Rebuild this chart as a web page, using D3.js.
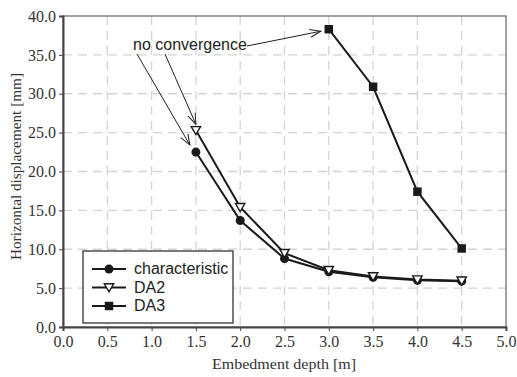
<!DOCTYPE html>
<html>
<head>
<meta charset="utf-8">
<script src="https://cdn.jsdelivr.net/npm/d3@7"></script>
<style>
  body { margin: 0; background: #fff; }
</style>
</head>
<body>
<div id="chart"></div>
<script>
// data
const depths = [1.5, 2.0, 2.5, 3.0, 3.5, 4.0, 4.5];
const characteristic = [22.5, 13.7, 8.8, 7.1, 6.4, 6.0, 5.9];
const da2 = [25.3, 15.4, 9.5, 7.3, 6.5, 6.1, 5.95];
const da3Depths = [3.0, 3.5, 4.0, 4.5];
const da3 = [38.3, 30.9, 17.4, 10.1];
const xTicks = [0, 0.5, 1, 1.5, 2, 2.5, 3, 3.5, 4, 4.5, 5];
const yTicks = [0, 5, 10, 15, 20, 25, 30, 35, 40];

const margin = {top: 16, right: 11, bottom: 50, left: 63},
      width = 517 - margin.left - margin.right,
      height = 377 - margin.top - margin.bottom;

const svgRoot = d3.select("#chart")
    .append("svg")
    .attr("width", 517)
    .attr("height", 377);

svgRoot.append("defs").append("marker")
    .attr("id", "arrow")
    .attr("viewBox", "0 0 12 10")
    .attr("refX", 11).attr("refY", 5)
    .attr("markerWidth", 12).attr("markerHeight", 10)
    .attr("markerUnits", "userSpaceOnUse")
    .attr("orient", "auto")
    .append("path")
    .attr("d", "M0,1 L11,5 L0,9")
    .attr("fill", "none")
    .attr("stroke", "#222")
    .attr("stroke-width", 1);

const svg = svgRoot.append("g")
    .attr("transform", `translate(${margin.left}, ${margin.top})`);

const x = d3.scaleLinear().domain([0, 5]).range([0, width]);
const y = d3.scaleLinear().domain([0, 40]).range([height, 0]);

// grid
svg.append("g").selectAll("line")
    .data(xTicks.slice(1, -1))
    .join("line")
    .attr("x1", d => x(d)).attr("x2", d => x(d))
    .attr("y1", 0).attr("y2", height)
    .attr("stroke", "#d4d4d4").attr("stroke-width", 1.3)
    .attr("stroke-dasharray", "9,6");
svg.append("g").selectAll("line")
    .data(yTicks.slice(1, -1))
    .join("line")
    .attr("y1", d => y(d)).attr("y2", d => y(d))
    .attr("x1", 0).attr("x2", width)
    .attr("stroke", "#d4d4d4").attr("stroke-width", 1.3)
    .attr("stroke-dasharray", "9,6");

// frame
svg.append("rect")
    .attr("width", width).attr("height", height)
    .attr("fill", "none").attr("stroke", "#666").attr("stroke-width", 1.2);

// axes
const xAxis = svg.append("g")
    .attr("transform", `translate(0, ${height})`)
    .call(d3.axisBottom(x).tickValues(xTicks).tickFormat(d3.format(".1f")).tickSize(4).tickPadding(5));
const yAxis = svg.append("g")
    .call(d3.axisLeft(y).tickValues(yTicks).tickFormat(d3.format(".1f")).tickSize(4).tickPadding(3));
[xAxis, yAxis].forEach(a => {
    a.attr("font-family", "Liberation Serif, serif").attr("font-size", 16);
    a.select(".domain").attr("stroke", "#444").attr("stroke-width", 2);
    a.selectAll(".tick line").attr("stroke", "#444");
    a.selectAll(".tick text").attr("fill", "#333");
});

// lines
const line = d3.line().x(d => x(d[0])).y(d => y(d[1]));
const charPts = depths.map((d, i) => [d, characteristic[i]]);
const da2Pts = depths.map((d, i) => [d, da2[i]]);
const da3Pts = da3Depths.map((d, i) => [d, da3[i]]);

[charPts, da2Pts, da3Pts].forEach(pts => {
    svg.append("path")
        .datum(pts)
        .attr("d", line)
        .attr("fill", "none")
        .attr("stroke", "#1a1a1a")
        .attr("stroke-width", 2);
});

// markers
const tri = d3.symbol().type(d3.symbolTriangle).size(38);
const sq = d3.symbol().type(d3.symbolSquare).size(72);

svg.append("g").selectAll("circle")
    .data(charPts)
    .join("circle")
    .attr("cx", d => x(d[0])).attr("cy", d => y(d[1]))
    .attr("r", 4.5).attr("fill", "#1a1a1a");

svg.append("g").selectAll("path")
    .data(da2Pts)
    .join("path")
    .attr("d", tri)
    .attr("transform", d => `translate(${x(d[0])}, ${y(d[1]) - 1}) rotate(180)`)
    .attr("fill", "#fff").attr("stroke", "#1a1a1a").attr("stroke-width", 1.4);

svg.append("g").selectAll("path")
    .data(da3Pts)
    .join("path")
    .attr("d", sq)
    .attr("transform", d => `translate(${x(d[0])}, ${y(d[1])})`)
    .attr("fill", "#1a1a1a");

// annotation
svg.append("text")
    .attr("x", 70).attr("y", 34)
    .attr("font-family", "Liberation Sans, Arial, sans-serif")
    .attr("font-size", "16px")
    .attr("fill", "#222")
    .text("no convergence");

const arrows = [
    [[74, 38], [x(1.5) - 6, y(characteristic[0]) - 7]],
    [[102, 38], [x(1.5), y(da2[0]) - 6]],
    [[184, 30], [x(3.0) - 8, y(da3[0]) + 2]]
];
svg.append("g").selectAll("line")
    .data(arrows)
    .join("line")
    .attr("x1", d => d[0][0]).attr("y1", d => d[0][1])
    .attr("x2", d => d[1][0]).attr("y2", d => d[1][1])
    .attr("stroke", "#222").attr("stroke-width", 1)
    .attr("marker-end", "url(#arrow)");

// legend
const legend = svg.append("g").attr("transform", "translate(20, 235)");
legend.append("rect")
    .attr("width", 150).attr("height", 72)
    .attr("fill", "#fff").attr("stroke", "#333").attr("stroke-width", 1.3);
const legendNames = ["characteristic", "DA2", "DA3"];
legendNames.forEach((name, i) => {
    const g = legend.append("g").attr("transform", `translate(0, ${18 + i * 18.5})`);
    g.append("line").attr("x1", 9).attr("x2", 43).attr("stroke", "#1a1a1a").attr("stroke-width", 2);
    if (i === 0) g.append("circle").attr("cx", 26).attr("r", 4.5).attr("fill", "#1a1a1a");
    if (i === 1) g.append("path").attr("d", tri).attr("transform", "translate(26, -1) rotate(180)")
        .attr("fill", "#fff").attr("stroke", "#1a1a1a").attr("stroke-width", 1.4);
    if (i === 2) g.append("path").attr("d", sq).attr("transform", "translate(26, 0)").attr("fill", "#1a1a1a");
    g.append("text")
        .attr("x", 51).attr("y", 5)
        .attr("font-family", "Liberation Sans, Arial, sans-serif")
        .attr("font-size", "16px").attr("fill", "#222")
        .text(name);
});

// axis titles
svgRoot.append("text")
    .attr("x", 212).attr("y", 369)
    .attr("font-family", "Liberation Serif, serif")
    .attr("font-size", "15px").attr("fill", "#333")
    .attr("textLength", 144).attr("lengthAdjust", "spacingAndGlyphs")
    .text("Embedment depth [m]");

svgRoot.append("text")
    .attr("transform", "translate(21, 260) rotate(-90)")
    .attr("font-family", "Liberation Serif, serif")
    .attr("font-size", "15px").attr("fill", "#333")
    .attr("textLength", 187).attr("lengthAdjust", "spacingAndGlyphs")
    .text("Horizontal displacement [mm]");
</script>
</body>
</html>
